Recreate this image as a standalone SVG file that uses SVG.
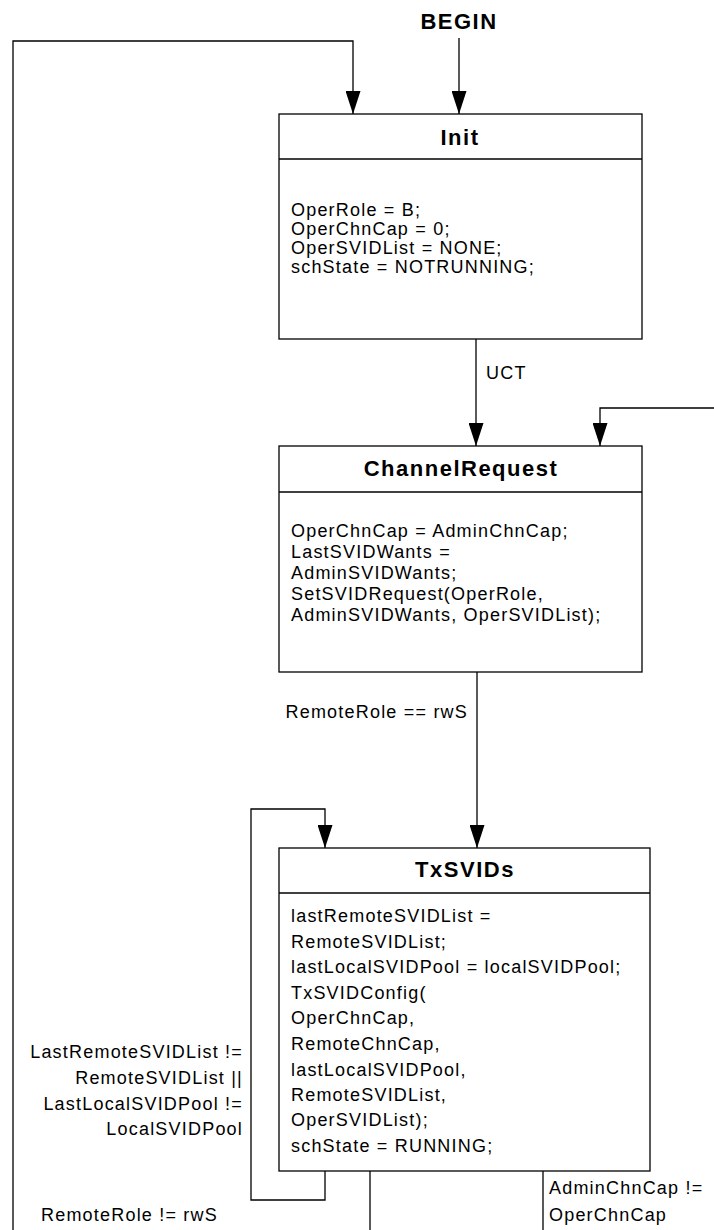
<svg xmlns="http://www.w3.org/2000/svg" width="714" height="1230" viewBox="0 0 714 1230">
<style>
  .box { fill: #ffffff; stroke: #000000; stroke-width: 1.3; }
  .div { stroke: #000000; stroke-width: 1.3; }
  .ln { fill: none; stroke: #000000; stroke-width: 1.3; }
  .t { font-family: "Liberation Sans", Arial, sans-serif; font-size: 18px; letter-spacing: 1.2px; fill: #000000; }
  .h { font-family: "Liberation Sans", Arial, sans-serif; font-size: 22px; font-weight: bold; letter-spacing: 1.5px; fill: #000000; text-anchor: middle; }
  .r { text-anchor: end; }
</style>
<defs>
  <marker id="ah" viewBox="0 0 23 15" refX="23" refY="7.5" markerWidth="23" markerHeight="15" markerUnits="userSpaceOnUse" orient="auto">
    <path d="M0,0 L23,7.5 L0,15 z" fill="#000000"/>
  </marker>
</defs>
<rect width="714" height="1230" fill="#ffffff"/>

<g id="begin">
  <text class="h" x="459" y="29">BEGIN</text>
</g>

<g id="connectors">
  <path class="ln" d="M459,38 L459,114" marker-end="url(#ah)"/>
  <path class="ln" d="M13,1230 L13,41 L353,41 L353,114" marker-end="url(#ah)"/>
  <path class="ln" d="M476,339 L476,446" marker-end="url(#ah)"/>
  <path class="ln" d="M714,408 L600,408 L600,446" marker-end="url(#ah)"/>
  <path class="ln" d="M477,672 L477,848" marker-end="url(#ah)"/>
  <path class="ln" d="M325,1171 L325,1200 L251,1200 L251,809 L325,809 L325,848" marker-end="url(#ah)"/>
  <path class="ln" d="M370,1171 L370,1230"/>
  <path class="ln" d="M543,1171 L543,1230"/>
  <text class="t" x="486" y="379">UCT</text>
  <text class="t r" x="468" y="718">RemoteRole == rwS</text>
  <text class="t r" x="243" y="1058">LastRemoteSVIDList !=</text>
  <text class="t r" x="243" y="1084">RemoteSVIDList ||</text>
  <text class="t r" x="243" y="1110">LastLocalSVIDPool !=</text>
  <text class="t r" x="243" y="1135">LocalSVIDPool</text>
  <text class="t" x="41" y="1221">RemoteRole != rwS</text>
  <text class="t" x="549" y="1194">AdminChnCap !=</text>
  <text class="t" x="549" y="1221">OperChnCap</text>
</g>

<g id="init">
  <rect class="box" x="279" y="114" width="363" height="225"/>
  <line class="div" x1="279" y1="159" x2="642" y2="159"/>
  <text class="h" x="460" y="145">Init</text>
  <text class="t" x="291" y="216">OperRole = B;</text>
  <text class="t" x="291" y="235">OperChnCap = 0;</text>
  <text class="t" x="291" y="254">OperSVIDList = NONE;</text>
  <text class="t" x="291" y="273">schState = NOTRUNNING;</text>
</g>

<g id="channelrequest">
  <rect class="box" x="279" y="446" width="363" height="226"/>
  <line class="div" x1="279" y1="492" x2="642" y2="492"/>
  <text class="h" x="461" y="476">ChannelRequest</text>
  <text class="t" x="291" y="537">OperChnCap = AdminChnCap;</text>
  <text class="t" x="291" y="558">LastSVIDWants =</text>
  <text class="t" x="291" y="579">AdminSVIDWants;</text>
  <text class="t" x="291" y="600">SetSVIDRequest(OperRole,</text>
  <text class="t" x="291" y="621">AdminSVIDWants, OperSVIDList);</text>
</g>

<g id="txsvids">
  <rect class="box" x="279" y="848" width="371" height="323"/>
  <line class="div" x1="279" y1="893" x2="650" y2="893"/>
  <text class="h" x="465" y="877">TxSVIDs</text>
  <text class="t" x="291" y="922">lastRemoteSVIDList =</text>
  <text class="t" x="291" y="948">RemoteSVIDList;</text>
  <text class="t" x="291" y="973">lastLocalSVIDPool = localSVIDPool;</text>
  <text class="t" x="291" y="999">TxSVIDConfig(</text>
  <text class="t" x="291" y="1024">OperChnCap,</text>
  <text class="t" x="291" y="1050">RemoteChnCap,</text>
  <text class="t" x="291" y="1076">lastLocalSVIDPool,</text>
  <text class="t" x="291" y="1101">RemoteSVIDList,</text>
  <text class="t" x="291" y="1126">OperSVIDList);</text>
  <text class="t" x="291" y="1152">schState = RUNNING;</text>
</g>
</svg>
